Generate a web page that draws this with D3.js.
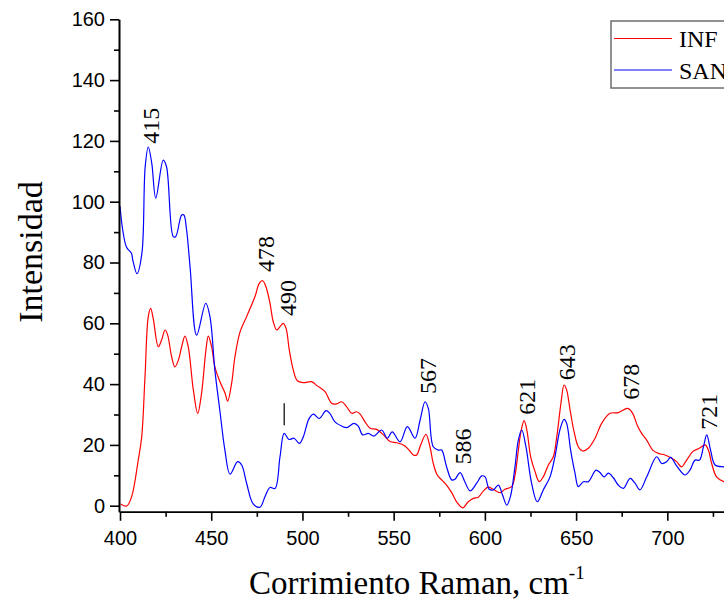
<!DOCTYPE html>
<html>
<head>
<meta charset="utf-8">
<script src="https://cdn.jsdelivr.net/npm/d3@7"></script>
<style>
  html, body { margin: 0; padding: 0; background: #fff; }
  svg { display: block; }
</style>
</head>
<body>
<svg id="chart" width="724" height="607"></svg>
<script>
// Raman spectra: infected (INF) and healthy (SANO) samples
const infShift = [400.4, 403.7, 406.4, 410, 411.9, 413.7, 415.5, 416.8, 418.2, 421, 422.8, 424.7, 426.1, 428.3, 430.1, 432, 433.8, 435.6, 437.4, 440.2, 442.6, 444.7, 447.1, 448.4, 450.2, 452, 454.8, 457.6, 459, 461.2, 463, 465.8, 469.4, 474, 476.4, 478.2, 480, 482.2, 484, 485.9, 487.7, 489.5, 491, 492.8, 495, 497.2, 500.5, 505, 508, 512.4, 516, 518.8, 521.5, 524.2, 527, 529.7, 531.5, 534.3, 537.1, 540.7, 544.4, 548, 551.7, 555.3, 558, 560.8, 562.6, 564.8, 567.7, 569.9, 571.7, 573.9, 576.3, 579, 581.8, 584.5, 587.8, 590.9, 593.7, 596.4, 599.2, 601.9, 604.6, 608.3, 611, 614.7, 616.5, 618.3, 619.8, 621.5, 623, 625.1, 627.5, 629.8, 632, 634.8, 637.5, 639.4, 641.7, 643.4, 644.8, 646.7, 648.9, 651.2, 653.6, 656.7, 660.4, 664, 668.6, 673.1, 675.9, 678.3, 681, 683.5, 685.9, 688.7, 692, 695.1, 698.7, 702.4, 705.1, 707.8, 710.6, 713.9, 717.5, 720.7, 722.5, 724.3, 727, 731, 736];
const infIntensity = [0.6, -0.1, 3, 15, 22.7, 42.4, 62.2, 64.9, 61.6, 52.3, 54.5, 57.8, 56.2, 49, 45.7, 47.9, 52.3, 55.8, 52.3, 38.1, 30.4, 37, 51.2, 55.8, 52.3, 45.7, 40.8, 37, 34.4, 40.3, 49, 57.2, 62.2, 68.8, 73.2, 74, 72, 66.6, 60.5, 57.8, 58.9, 60, 58.4, 51.2, 44.6, 41.1, 40.5, 40.8, 39.5, 37.5, 33.7, 33.5, 34.2, 32.6, 30.4, 30.9, 30.2, 27.6, 25.5, 25.1, 23.3, 21.1, 20.7, 20, 18.6, 16.7, 16.7, 20, 23.5, 19.4, 13.9, 10.1, 8.5, 6.8, 4.3, 1.3, -0.7, 1.3, 2.4, 2.8, 4.9, 6.1, 5.4, 4.3, 5.4, 6.3, 10, 18, 24.5, 28, 24.9, 16.1, 11.2, 7.9, 9.5, 13.4, 16.1, 22.7, 33.7, 39.7, 38.1, 31.5, 24.3, 19.4, 18, 18.9, 22.2, 27.1, 30.4, 30.6, 31.5, 32, 30.4, 26.5, 23.8, 21.6, 18.3, 17.2, 16.7, 15.6, 14.5, 12.8, 15, 17.8, 18.9, 20, 18.3, 13.9, 9.5, 7.9, 7.5];

const sanShift = [400, 401.5, 403.6, 406.3, 407, 409.3, 412, 413.8, 415.5, 417.4, 419.6, 423.7, 425.5, 429.2, 430.5, 433.8, 435, 436.5, 438.4, 442, 447, 449.3, 452, 454.7, 457.5, 460.3, 464.5, 466.7, 469.4, 473, 476.7, 479.5, 482.2, 485, 487.7, 490, 492.6, 495.4, 498.3, 500.5, 503.5, 506, 509.3, 512.9, 515, 517.8, 521.5, 524.2, 528.3, 530.6, 533, 536.1, 539.2, 543.4, 546.5, 549.2, 553.5, 557.5, 561.7, 564.5, 567.2, 569, 571.7, 574.5, 576.3, 579, 581.8, 583.6, 586.4, 589, 591.9, 595.5, 598.3, 600.1, 602.4, 604.6, 607.4, 609.7, 612, 614, 616.5, 618.3, 620.2, 622.5, 625.6, 628.7, 632, 635.7, 638.4, 641.1, 643.4, 644.8, 647, 649.4, 651.2, 654, 656.7, 660.9, 663.1, 665.3, 667.7, 670.4, 673.1, 675.9, 679.6, 682.3, 685, 688.7, 694.2, 696.9, 699.6, 701.8, 705.1, 709.7, 712.4, 715.2, 717.6, 719.8, 721.6, 723.7, 726.2, 731, 736];
const sanIntensity = [98.5, 90.7, 85, 83, 80.8, 76.3, 83, 111.5, 118, 112.7, 101.2, 113.7, 111.5, 88.5, 88.5, 95.6, 95.6, 90.7, 78.6, 56.1, 66.6, 62.2, 44.6, 31.5, 18.3, 10.4, 14.5, 13.4, 7.4, 0.6, -0.5, 3, 6, 5.7, 16.1, 23.8, 21.8, 22.2, 20.5, 22.7, 28.5, 30.1, 28.7, 31.3, 30.4, 27.6, 26.2, 25.7, 27.1, 26.2, 23.3, 23.8, 22.9, 24.9, 22.2, 24.3, 21, 26, 22.2, 28.2, 34.2, 32, 19.4, 18.3, 18.3, 12.8, 8.5, 8.7, 10.9, 7.9, 4.9, 7.4, 9.8, 9.5, 5.4, 5.2, 6.8, 3.5, 0.2, 3, 12.8, 21.5, 24.9, 19.4, 7.4, 1.3, 5.2, 9.5, 16.1, 24.9, 28.4, 27.1, 18.3, 10.7, 6.3, 7.9, 7.9, 11.7, 10.9, 9.5, 10.7, 9.2, 6.8, 5.7, 9, 7.4, 5.2, 9.5, 16.1, 13.9, 14.5, 15.9, 13.1, 10.1, 11.7, 15, 15, 19.4, 23.3, 18.3, 13.4, 12.8, 12.8];

const seriesNames = ["INF", "SANO"];
const seriesColors = ["#ff0000", "#0000ff"];

const xMajorTicks = [400, 450, 500, 550, 600, 650, 700];
const xMinorTicks = [425, 475, 525, 575, 625, 675, 725];
const yMajorTicks = [0, 20, 40, 60, 80, 100, 120, 140, 160];
const yMinorTicks = [10, 30, 50, 70, 90, 110, 130, 150];

// Annotated band positions (cm-1)
const peakLabels = [415, 478, 490, 567, 586, 621, 643, 678, 721];

const svg = d3.select("#chart");

const x = d3.scaleLinear().domain([400, 740]).range([120, 740.3]);
const y = d3.scaleLinear().domain([-2, 160]).range([511.8, 19.3]);

const tickFont = "'Liberation Sans', Arial, sans-serif";
const serifFont = "'Liberation Serif', 'Times New Roman', serif";

// Spectra
const infData = infShift.map((s, i) => [s, infIntensity[i]]);
const sanData = sanShift.map((s, i) => [s, sanIntensity[i]]);

const line = d3.line()
  .x(d => x(d[0]))
  .y(d => y(d[1]))
  .curve(d3.curveCatmullRom.alpha(0.5));

svg.append("path")
  .datum(infData)
  .attr("fill", "none")
  .attr("stroke", seriesColors[0])
  .attr("stroke-width", 1.2)
  .attr("d", line);

svg.append("path")
  .datum(sanData)
  .attr("fill", "none")
  .attr("stroke", seriesColors[1])
  .attr("stroke-width", 1.2)
  .attr("d", line);

// Axes
function styleAxis(g) {
  g.selectAll("path.domain").attr("stroke", "#000").attr("stroke-width", 1.6);
  g.selectAll(".tick line").attr("stroke", "#000").attr("stroke-width", 1.6);
  g.selectAll(".tick text")
    .attr("fill", "#000")
    .style("font-family", tickFont)
    .style("font-size", "20px");
}

const xAxisY = y(-2);
svg.append("g")
  .attr("transform", `translate(0,${xAxisY})`)
  .call(d3.axisBottom(x).tickValues(xMinorTicks).tickSize(5).tickSizeOuter(0).tickFormat(""))
  .call(styleAxis);
svg.append("g")
  .attr("transform", `translate(0,${xAxisY})`)
  .call(d3.axisBottom(x).tickValues(xMajorTicks).tickSize(9).tickSizeOuter(0).tickPadding(10).tickFormat(d3.format("d")))
  .call(styleAxis);

const yAxisX = 119;
svg.append("g")
  .attr("transform", `translate(${yAxisX},0)`)
  .call(d3.axisLeft(y).tickValues(yMinorTicks).tickSize(5).tickSizeOuter(0).tickFormat(""))
  .call(styleAxis);
svg.append("g")
  .attr("transform", `translate(${yAxisX},0)`)
  .call(d3.axisLeft(y).tickValues(yMajorTicks).tickSize(9).tickSizeOuter(0).tickPadding(5).tickFormat(d3.format("d")))
  .call(styleAxis);

// Axis titles
const xTitle = svg.append("text")
  .attr("x", 249)
  .attr("y", 594)
  .attr("fill", "#000")
  .style("font-family", serifFont)
  .style("font-size", "33px");
xTitle.append("tspan").text("Corrimiento Raman, cm");
xTitle.append("tspan")
  .attr("dy", -15)
  .style("font-size", "19px")
  .text("-1");

svg.append("text")
  .attr("transform", "translate(42,252) rotate(-90)")
  .attr("text-anchor", "middle")
  .attr("fill", "#000")
  .style("font-family", serifFont)
  .style("font-size", "34px")
  .text("Intensidad");

// Band labels placed just above the higher of the two spectra
function valueAt(shifts, values, s) {
  const i = d3.bisectLeft(shifts, s);
  if (i <= 0) return values[0];
  if (i >= shifts.length) return values[values.length - 1];
  const t = (s - shifts[i - 1]) / (shifts[i] - shifts[i - 1]);
  return values[i - 1] + t * (values[i] - values[i - 1]);
}

peakLabels.forEach(p => {
  const top = Math.max(valueAt(infShift, infIntensity, p), valueAt(sanShift, sanIntensity, p));
  svg.append("text")
    .attr("transform", `translate(${x(p) + 3},${y(top) - 9}) rotate(-90)`)
    .attr("dy", "0.35em")
    .attr("fill", "#000")
    .style("font-family", serifFont)
    .style("font-size", "24px")
    .text(String(p));
});

// Marker above the SANO spectrum at 490
const mark490 = valueAt(sanShift, sanIntensity, 490);
svg.append("line")
  .attr("x1", x(490)).attr("x2", x(490))
  .attr("y1", y(mark490) - 8).attr("y2", y(mark490) - 30)
  .attr("stroke", "#000")
  .attr("stroke-width", 1.2);

// Legend
const legend = svg.append("g").attr("transform", "translate(611,21)");
legend.append("rect")
  .attr("width", 200).attr("height", 67)
  .attr("fill", "#fff")
  .attr("stroke", "#6e6e6e")
  .attr("stroke-width", 1.5);
seriesNames.forEach((name, i) => {
  const ly = 17.5 + i * 31.5;
  legend.append("line")
    .attr("x1", 3).attr("x2", 61)
    .attr("y1", ly).attr("y2", ly)
    .attr("stroke", seriesColors[i])
    .attr("stroke-width", 1.2);
  legend.append("text")
    .attr("x", 68).attr("y", ly + 8.5)
    .attr("fill", "#000")
    .style("font-family", serifFont)
    .style("font-size", "24px")
    .text(name);
});
</script>
</body>
</html>
